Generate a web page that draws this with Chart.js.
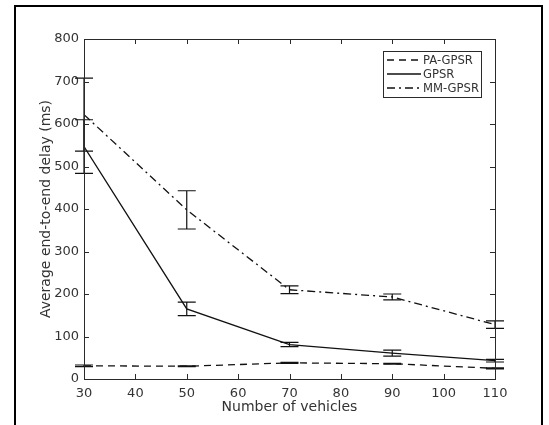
<!DOCTYPE html>
<html>
<head>
<meta charset="utf-8">
<script src="https://cdn.jsdelivr.net/npm/chart.js@4"></script>
<style>
  body { margin: 0; background: #fff; }
  canvas { display: block; }
</style>
</head>
<body>
<canvas id="myChart" width="549" height="425"></canvas>
<script>
const vehicles = [30, 50, 70, 90, 110];
const seriesNames = ['PA-GPSR', 'GPSR', 'MM-GPSR'];
const paGpsr = [31, 30, 38, 36, 25];
const paGpsrErr = [2, 1, 1, 1, 1];
const gpsr = [547, 165, 81, 61, 43];
const gpsrErr = [63, 16, 5, 7, 3];
const mmGpsr = [622, 398, 210, 193, 128];
const mmGpsrErr = [86, 45, 9, 7, 9];
const xTicks = [30, 40, 50, 60, 70, 80, 90, 100, 110];
const yTicks = [0, 100, 200, 300, 400, 500, 600, 700, 800];

const FONT = 'DejaVu Sans';
const TEXT = '#333';

function pts(ys) {
  return vehicles.map((v, i) => ({ x: v, y: ys[i] }));
}

// draws error bars, inward ticks, axes box, legend and outer frame
const extras = {
  id: 'extras',
  afterDatasetsDraw(chart) {
    const ctx = chart.ctx;
    const xs = chart.scales.x, ys = chart.scales.y;
    const a = chart.chartArea;
    ctx.save();

    // error bars
    chart.data.datasets.forEach((ds) => {
      ctx.strokeStyle = ds.borderColor;
      ctx.lineWidth = 1.2;
      ctx.setLineDash([]);
      ds.data.forEach((p, i) => {
        const e = ds.errors[i];
        const px = xs.getPixelForValue(p.x);
        const top = ys.getPixelForValue(p.y + e);
        const bot = ys.getPixelForValue(p.y - e);
        ctx.beginPath();
        ctx.moveTo(px, top); ctx.lineTo(px, bot);
        ctx.moveTo(px - 9, top); ctx.lineTo(px + 9, top);
        ctx.moveTo(px - 9, bot); ctx.lineTo(px + 9, bot);
        ctx.stroke();
      });
    });

    // axes box
    ctx.strokeStyle = '#2a2a2a';
    ctx.lineWidth = 1;
    ctx.strokeRect(Math.round(a.left) + 0.5, Math.round(a.top) + 0.5,
      Math.round(a.right - a.left), Math.round(a.bottom - a.top));

    // inward ticks on all four sides
    ctx.beginPath();
    xTicks.forEach((t) => {
      const px = Math.round(xs.getPixelForValue(t)) + 0.5;
      ctx.moveTo(px, a.bottom); ctx.lineTo(px, a.bottom - 5);
      ctx.moveTo(px, a.top); ctx.lineTo(px, a.top + 5);
    });
    yTicks.forEach((t) => {
      const py = Math.round(ys.getPixelForValue(t)) + 0.5;
      ctx.moveTo(a.left, py); ctx.lineTo(a.left + 5, py);
      ctx.moveTo(a.right, py); ctx.lineTo(a.right - 5, py);
    });
    ctx.stroke();

    // legend
    const lx = 383.5, ly = 51.5, lw = 98, lh = 46;
    ctx.fillStyle = '#fff';
    ctx.fillRect(lx, ly, lw, lh);
    ctx.strokeStyle = '#2a2a2a';
    ctx.strokeRect(lx, ly, lw, lh);
    ctx.font = '11.6px "' + FONT + '"';
    ctx.textBaseline = 'middle';
    chart.data.datasets.forEach((ds, i) => {
      const y = 60 + i * 14;
      ctx.strokeStyle = ds.borderColor;
      ctx.lineWidth = 1.3;
      ctx.setLineDash(ds.borderDash || []);
      ctx.beginPath();
      ctx.moveTo(387, y); ctx.lineTo(421, y);
      ctx.stroke();
      ctx.fillStyle = TEXT;
      ctx.fillText(ds.label, 423, y + 1);
    });
    ctx.setLineDash([]);

    // outer frame
    ctx.strokeStyle = '#000';
    ctx.lineWidth = 2;
    ctx.beginPath();
    ctx.moveTo(15, 430); ctx.lineTo(15, 6); ctx.lineTo(542, 6); ctx.lineTo(542, 430);
    ctx.stroke();
    ctx.restore();
  }
};

const ctx = document.getElementById('myChart');

new Chart(ctx, {
  type: 'line',
  data: {
    datasets: [{
      label: seriesNames[0],
      data: pts(paGpsr),
      errors: paGpsrErr,
      borderColor: '#111',
      borderDash: [7, 5],
    }, {
      label: seriesNames[1],
      data: pts(gpsr),
      errors: gpsrErr,
      borderColor: '#111',
    }, {
      label: seriesNames[2],
      data: pts(mmGpsr),
      errors: mmGpsrErr,
      borderColor: '#111',
      borderDash: [8, 4, 2, 4],
    }]
  },
  options: {
    responsive: false,
    animation: false,
    events: [],
    layout: { padding: { left: 0, right: 54, top: 39, bottom: 0 } },
    elements: {
      point: { radius: 0 },
      line: { borderWidth: 1.3, tension: 0, fill: false }
    },
    plugins: {
      legend: { display: false },
      tooltip: { enabled: false }
    },
    scales: {
      x: {
        type: 'linear',
        min: 30,
        max: 110,
        afterFit: (s) => { s.height = 46; },
        afterBuildTicks: (s) => { s.ticks = xTicks.map(v => ({ value: v })); },
        grid: { display: false, drawTicks: false },
        border: { display: false },
        ticks: { padding: 7, color: TEXT, font: { family: FONT, size: 13 } },
        title: {
          display: true,
          text: 'Number of vehicles',
          color: TEXT,
          font: { family: FONT, size: 14 },
          padding: { top: 0, bottom: 9 }
        }
      },
      y: {
        min: 0,
        max: 800,
        afterFit: (s) => { s.width = 84; },
        afterBuildTicks: (s) => { s.ticks = yTicks.map(v => ({ value: v })); },
        grid: { display: false, drawTicks: false },
        border: { display: false },
        ticks: { padding: 5, color: TEXT, font: { family: FONT, size: 13 } },
        title: {
          display: true,
          text: 'Average end-to-end delay (ms)',
          color: TEXT,
          font: { family: FONT, size: 14 },
          padding: { top: 38, bottom: 0 }
        }
      }
    }
  },
  plugins: [extras]
});
</script>
</body>
</html>
